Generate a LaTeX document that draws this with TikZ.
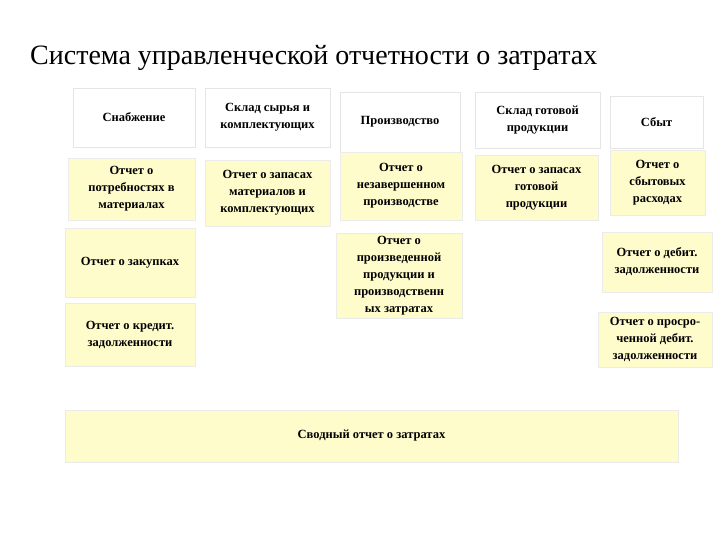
\documentclass[tikz,border=0pt]{standalone}
\usepackage{fontspec}
\setmainfont{Liberation Serif}
\begin{document}
\begin{tikzpicture}[x=1pt,y=-1pt,
  hb/.style={draw=black!10,fill=white,line width=0.8pt},
  yb/.style={draw=black!8,fill=yellow!20,line width=0.8pt},
  tx/.style={align=center,inner sep=0pt,font=\fontsize{12.5}{17}\selectfont\bfseries}]
\fill[white] (0,0) rectangle (720,540);
\node[anchor=west,inner sep=0pt,font=\fontsize{28}{32}\selectfont] (title) at (30,58) {Система управленческой отчетности о затратах};
\newcommand\bx[7]{\draw[#6] (#2,#3) rectangle (#4,#5); \node[tx] (#1) at ({(#2+#4)/2},{(#3+#5)/2}) {#7};}
\bx{h1}{73}{88}{195}{147}{hb}{Снабжение}
\bx{h2}{205}{88}{330}{147}{hb}{Склад сырья и\\комплектующих}
\bx{h3}{340}{92}{460}{152}{hb}{Производство}
\bx{h4}{475}{92}{600}{148}{hb}{Склад готовой\\продукции}
\bx{h5}{610}{96}{703}{148}{hb}{Сбыт}
\bx{a1}{68}{158}{195}{220}{yb}{Отчет о\\потребностях в\\материалах}
\bx{a2}{205}{160}{330}{226}{yb}{Отчет о запасах\\материалов и\\комплектующих}
\bx{a3}{340}{152}{462}{220}{yb}{Отчет о\\незавершенном\\производстве}
\bx{a4}{475}{155}{598}{220}{yb}{Отчет о запасах\\готовой\\продукции}
\bx{a5}{610}{150}{705}{215}{yb}{Отчет о\\сбытовых\\расходах}
\bx{b1}{65}{228}{195}{297}{yb}{Отчет о закупках}
\bx{b3}{336}{233}{462}{318}{yb}{Отчет о\\произведенной\\продукции и\\производственн\\ых затратах}
\bx{b5}{602}{232}{712}{292}{yb}{Отчет о дебит.\\задолженности}
\bx{c1}{65}{303}{195}{366}{yb}{Отчет о кредит.\\задолженности}
\bx{c5}{598}{312}{712}{367}{yb}{Отчет о просро-\\ченной дебит.\\задолженности}
\bx{s}{65}{410}{678}{462}{yb}{Сводный отчет о затратах}
\end{tikzpicture}
\end{document}
